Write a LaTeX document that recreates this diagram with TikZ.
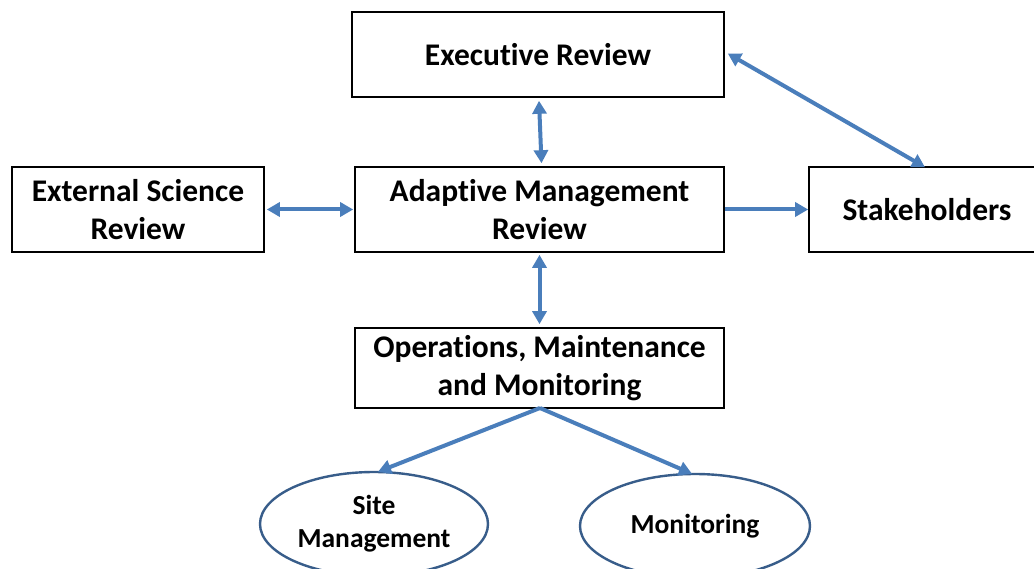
\documentclass[tikz,border=0pt]{standalone}
\usepackage{fontspec}
\setmainfont[Ligatures=NoCommon]{Carlito}
\usetikzlibrary{arrows.meta,shapes.geometric}
\definecolor{arrowblue}{HTML}{4A7EBB}
\definecolor{ellblue}{HTML}{385D8A}
\tikzset{
  box/.style={draw=black,line width=1.6pt,fill=white,inner sep=0pt,align=center,font=\fontsize{31.5}{38}\selectfont\bfseries},
  oval/.style={draw=ellblue,line width=2.4pt,fill=white,ellipse,inner sep=0pt,align=center,font=\fontsize{27.5}{33}\selectfont\bfseries},
  link/.style={draw=arrowblue,line width=4pt,-{Triangle[length=13pt,width=14pt]}},
  blink/.style={draw=arrowblue,line width=4pt,{Triangle[length=13pt,width=14pt]}-{Triangle[length=13pt,width=14pt]}}
}
\begin{document}
\begin{tikzpicture}[x=1pt,y=-1pt]
\useasboundingbox[fill=white] (0,0) rectangle (1034,569);
\node[box,minimum width=372pt,minimum height=85pt] (exec) at (538,54.5) {Executive Review};
\node[box,minimum width=252pt,minimum height=85pt] (ext) at (138,209.5) {External Science\\Review};
\node[box,minimum width=369pt,minimum height=85pt] (amr) at (539.5,209.5) {Adaptive Management\\Review};
\node[box,minimum width=226pt,minimum height=85pt] (stake) at (922,209.5) {\hspace*{10pt}Stakeholders};
\node[box,minimum width=369pt,minimum height=80pt] (ops) at (539.5,368) {Operations, Maintenance\\and Monitoring};
\node[oval,minimum width=228pt,minimum height=104pt] (site) at (374,524) {Site\\Management};
\node[oval,minimum width=230pt,minimum height=104pt] (mon) at (695,526) {Monitoring};
\coordinate (opsb) at (540,408);
\draw[blink] ([xshift=1pt,yshift=-3pt]exec.south) -- ([xshift=2pt,yshift=3pt]amr.north);
\draw[blink] ([xshift=3pt,yshift=1pt]exec.east) -- ([xshift=3pt,yshift=-1pt]stake.north);
\draw[blink] ([xshift=2pt]ext.east) -- ([xshift=-1pt]amr.west);
\draw[link] (amr.east) -- (stake.west);
\draw[blink] ([yshift=-2pt]amr.south) -- ([yshift=3pt]ops.north);
\draw[link] (opsb) -- ([xshift=4pt,yshift=-1pt]site.north);
\draw[link] (opsb) -- ([xshift=-3pt,yshift=-1pt]mon.north);
\end{tikzpicture}
\end{document}
